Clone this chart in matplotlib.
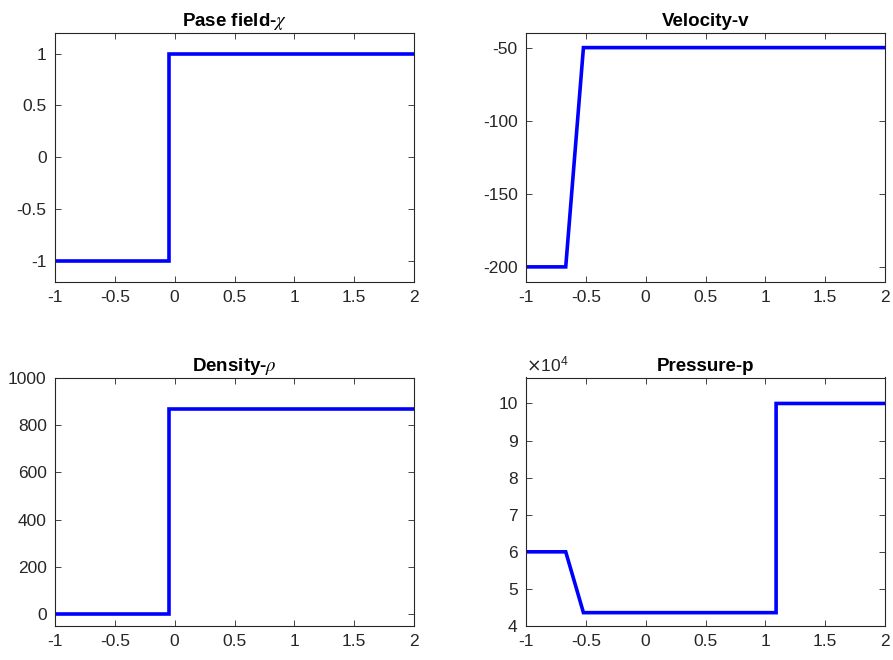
import numpy as np
import matplotlib.pyplot as plt

plt.rcParams['font.family'] = ['Liberation Sans', 'DejaVu Sans']
plt.rcParams['mathtext.fontset'] = 'stix'
plt.rcParams['axes.unicode_minus'] = False

# Riemann problem solution profiles
chi_x = [-1.0, -0.05, -0.05, 2.0]
chi_y = [-1.0, -1.0, 1.0, 1.0]

vel_x = [-1.0, -0.668, -0.52, 2.0]
vel_y = [-200.0, -200.0, -50.0, -50.0]

rho_x = [-1.0, -0.05, -0.05, 2.0]
rho_y = [0.0, 0.0, 865.0, 865.0]

p_x = [-1.0, -0.668, -0.52, 1.09, 1.09, 2.0]
p_y = [6.0e4, 6.0e4, 4.36e4, 4.36e4, 10.0e4, 10.0e4]

x_ticks = [-1, -0.5, 0, 0.5, 1, 1.5, 2]
x_labels = ['-1', '-0.5', '0', '0.5', '1', '1.5', '2']

fig = plt.figure(figsize=(8.93, 6.6), dpi=100)
W = 359 / 893
H = 248.5 / 660
boxes = [
    [55 / 893, 1 - 281.5 / 660, W, H],
    [526 / 893, 1 - 281.5 / 660, W, H],
    [55 / 893, 1 - 626 / 660, W, H],
    [526 / 893, 1 - 626 / 660, W, H],
]

panels = [
    (chi_x, chi_y, r'Pase field-$\chi$', (-1.2, 1.2), [-1, -0.5, 0, 0.5, 1], ['-1', '-0.5', '0', '0.5', '1']),
    (vel_x, vel_y, 'Velocity-v', (-210, -40), [-200, -150, -100, -50], ['-200', '-150', '-100', '-50']),
    (rho_x, rho_y, r'Density-$\rho$', (-50, 1000), [0, 200, 400, 600, 800, 1000], ['0', '200', '400', '600', '800', '1000']),
    (p_x, p_y, 'Pressure-p', (4e4, 10.7e4), [4e4, 5e4, 6e4, 7e4, 8e4, 9e4, 10e4], ['4', '5', '6', '7', '8', '9', '10']),
]

edge = (0.15, 0.15, 0.15)
for box, (xs, ys, title, ylim, yt, yl) in zip(boxes, panels):
    ax = fig.add_axes(box)
    ax.plot(xs, ys, color='#0000ff', lw=2.6, solid_joinstyle='miter')
    ax.set_xlim(-1, 2)
    ax.set_ylim(*ylim)
    ax.set_xticks(x_ticks)
    ax.set_xticklabels(x_labels)
    ax.set_yticks(yt)
    ax.set_yticklabels(yl)
    ax.set_title(title, fontsize=13.5, fontweight='bold', pad=5)
    ax.tick_params(direction='in', top=True, right=True, length=4, width=0.6,
                   labelsize=12.5, colors=edge, labelcolor=edge, pad=6)
    for s in ax.spines.values():
        s.set_color(edge)
        s.set_linewidth(0.8)

# scale factor label for the pressure panel
ax.text(0.0, 1.012, r'$\times\mathregular{10^{4}}$', transform=ax.transAxes,
        fontsize=12.5, color=edge, ha='left', va='bottom',
        math_fontfamily='dejavusans')

fig.savefig('out.png', dpi=100)
